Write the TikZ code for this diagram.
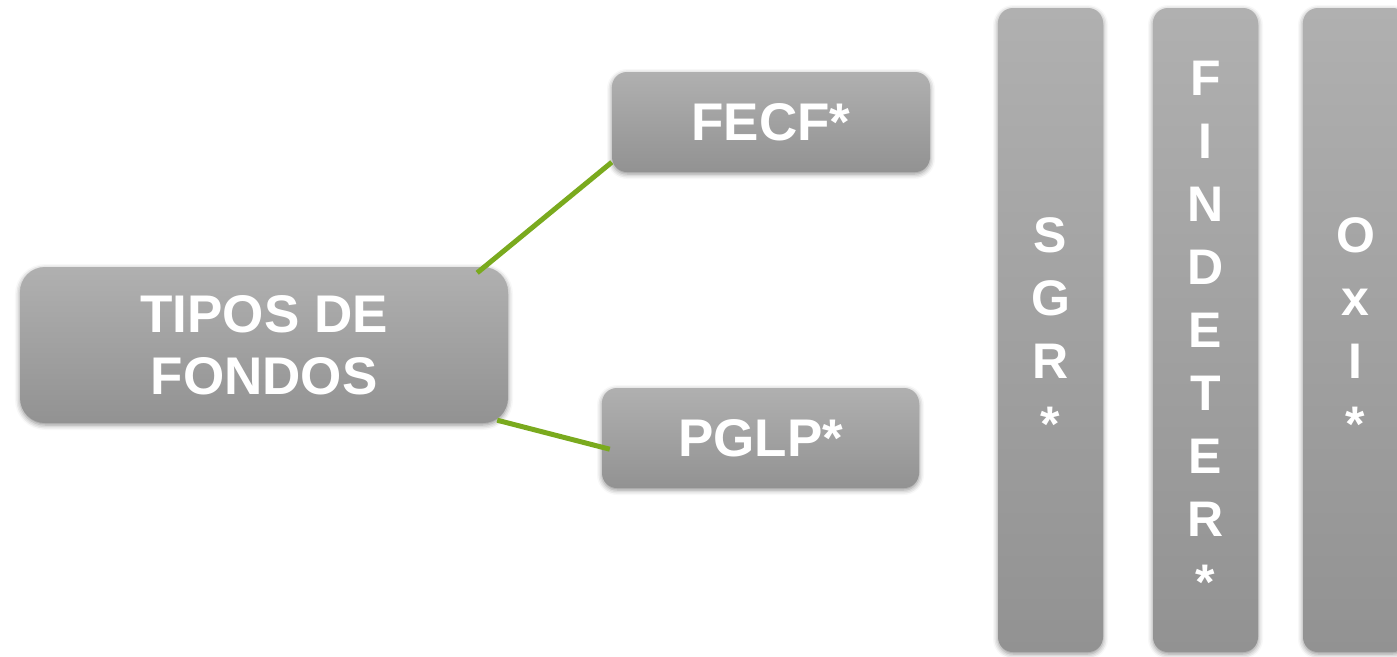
\documentclass[tikz,border=0pt]{standalone}
\usepackage{fontspec}
\setmainfont{Liberation Sans}
\usetikzlibrary{shadows.blur}
\definecolor{boxtop}{RGB}{176,176,176}
\definecolor{boxbot}{RGB}{146,146,146}
\definecolor{linkgreen}{RGB}{122,170,30}
\tikzset{
  box/.style={draw=none, top color=boxtop, bottom color=boxbot, text=white,
    font=\bfseries, align=center, inner sep=0pt,
    blur shadow={shadow xshift=0pt, shadow yshift=-2pt, shadow blur radius=5pt, shadow opacity=45}},
  bigtext/.style={font=\bfseries\fontsize{53}{62}\selectfont},
  bartext/.style={font=\bfseries\fontsize{50}{63}\selectfont},
  link/.style={draw=linkgreen, line width=5pt}
}
\begin{document}
\begin{tikzpicture}[x=1pt,y=-1pt]
\useasboundingbox (0,0) rectangle (1397,656);
\clip (0,0) rectangle (1397,656);
\node[box, bigtext, rounded corners=25pt, minimum width=488pt, minimum height=156pt] (tipos) at (264,345) {TIPOS DE\\FONDOS};
\node[box, bigtext, rounded corners=15pt, minimum width=318pt, minimum height=100pt] (fecf) at (771,122) {FECF*};
\node[box, bigtext, rounded corners=15pt, minimum width=317pt, minimum height=100pt] (pglp) at (760.5,438) {PGLP*};
\node[box, bartext, rounded corners=15pt, minimum width=105pt, minimum height=644pt] (sgr) at (1050.5,330) {S\\G\\R\\*};
\node[box, bartext, rounded corners=15pt, minimum width=105pt, minimum height=644pt] (findeter) at (1205.5,330) {F\\I\\N\\D\\E\\T\\E\\R\\*};
\node[box, bartext, rounded corners=15pt, minimum width=105pt, minimum height=644pt] (oxi) at (1355.5,330) {O\\x\\I\\*};
\draw[link] ([xshift=-31pt,yshift=-6pt]tipos.north east) -- ([yshift=10pt]fecf.south west);
\draw[link] ([xshift=-11pt,yshift=3pt]tipos.south east) -- ([xshift=8pt,yshift=39pt]pglp.south west);
\end{tikzpicture}
\end{document}
